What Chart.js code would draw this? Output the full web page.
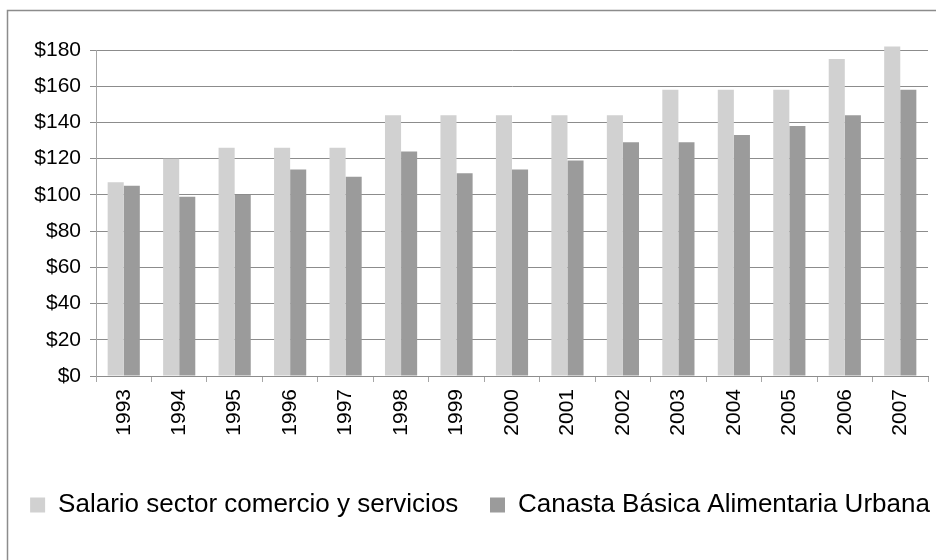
<!DOCTYPE html>
<html lang="es">
<head>
<meta charset="utf-8">
<title>Salario vs Canasta Básica</title>
<script src="https://cdn.jsdelivr.net/npm/chart.js@4.4.0/dist/chart.umd.min.js"></script>
<style>
  body { margin: 0; background: #ffffff; }
  canvas { display: block; }
</style>
</head>
<body>
<canvas id="grafico" width="936" height="560"></canvas>
<script>
// Datos
const anios = ['1993', '1994', '1995', '1996', '1997', '1998', '1999', '2000',
               '2001', '2002', '2003', '2004', '2005', '2006', '2007'];
const salario = [107, 120, 126, 126, 126, 144, 144, 144, 144, 144, 158, 158, 158, 175, 182];
const canasta = [105, 99, 100, 114, 110, 124, 112, 114, 119, 129, 129, 133, 138, 144, 158];
const ticksY = [0, 20, 40, 60, 80, 100, 120, 140, 160, 180];

const fuente = "'Liberation Sans', Arial, sans-serif";

// Fondo blanco y marco del gráfico
const marco = {
    id: 'marco',
    beforeDraw(chart) {
        const c = chart.ctx;
        c.save();
        c.fillStyle = '#ffffff';
        c.fillRect(0, 0, chart.width, chart.height);
        c.strokeStyle = '#8c8c8c';
        c.lineWidth = 1.5;
        c.strokeRect(7.5, 10.5, 960, 600);
        c.restore();
    }
};

// Desplaza la leyenda un poco a la derecha
const moverLeyenda = {
    id: 'moverLeyenda',
    afterLayout(chart) {
        if (chart.legend) {
            chart.legend.left += 16;
            chart.legend.right += 16;
        }
    }
};

const ctx = document.getElementById('grafico').getContext('2d');

new Chart(ctx, {
    type: 'bar',
    data: {
        labels: anios,
        datasets: [{
            label: 'Salario sector comercio y servicios',
            data: salario,
            backgroundColor: '#d1d1d1',
            borderWidth: 0,
            clip: false
        }, {
            label: 'Canasta Básica Alimentaria Urbana',
            data: canasta,
            backgroundColor: '#9b9b9b',
            borderWidth: 0
        }]
    },
    options: {
        responsive: false,
        animation: false,
        devicePixelRatio: 1,
        layout: {
            padding: { left: 0, right: 8, top: 50, bottom: 32 }
        },
        datasets: {
            bar: { categoryPercentage: 0.58, barPercentage: 1 }
        },
        scales: {
            x: {
                offset: true,
                afterFit: function(scale) { scale.height = 106; },
                grid: {
                    offset: true,
                    drawOnChartArea: false,
                    drawTicks: true,
                    tickLength: 6,
                    color: '#a6a6a6'
                },
                border: { color: '#8c8c8c' },
                ticks: {
                    autoSkip: false,
                    minRotation: 90,
                    maxRotation: 90,
                    padding: 7,
                    color: '#000000',
                    font: { family: fuente, size: 21 }
                }
            },
            y: {
                min: 0,
                max: 180,
                afterFit: function(scale) { scale.width = 96; },
                afterBuildTicks: function(scale) {
                    scale.ticks = ticksY.map(v => ({ value: v }));
                },
                grid: {
                    color: '#8c8c8c',
                    tickLength: 6
                },
                border: { color: '#a6a6a6' },
                ticks: {
                    padding: 9,
                    color: '#000000',
                    font: { family: fuente, size: 21 },
                    callback: v => '$' + v
                }
            }
        },
        plugins: {
            tooltip: { enabled: false },
            legend: {
                position: 'bottom',
                labels: {
                    boxWidth: 15,
                    boxHeight: 15,
                    padding: 10,
                    color: '#000000',
                    font: { family: fuente, size: 26 },
                    // espacio extra tras la primera entrada
                    generateLabels: function(chart) {
                        const items = Chart.defaults.plugins.legend.labels.generateLabels(chart);
                        items[0].text += '   ';
                        return items;
                    }
                }
            }
        }
    },
    plugins: [marco, moverLeyenda]
});
</script>
</body>
</html>
